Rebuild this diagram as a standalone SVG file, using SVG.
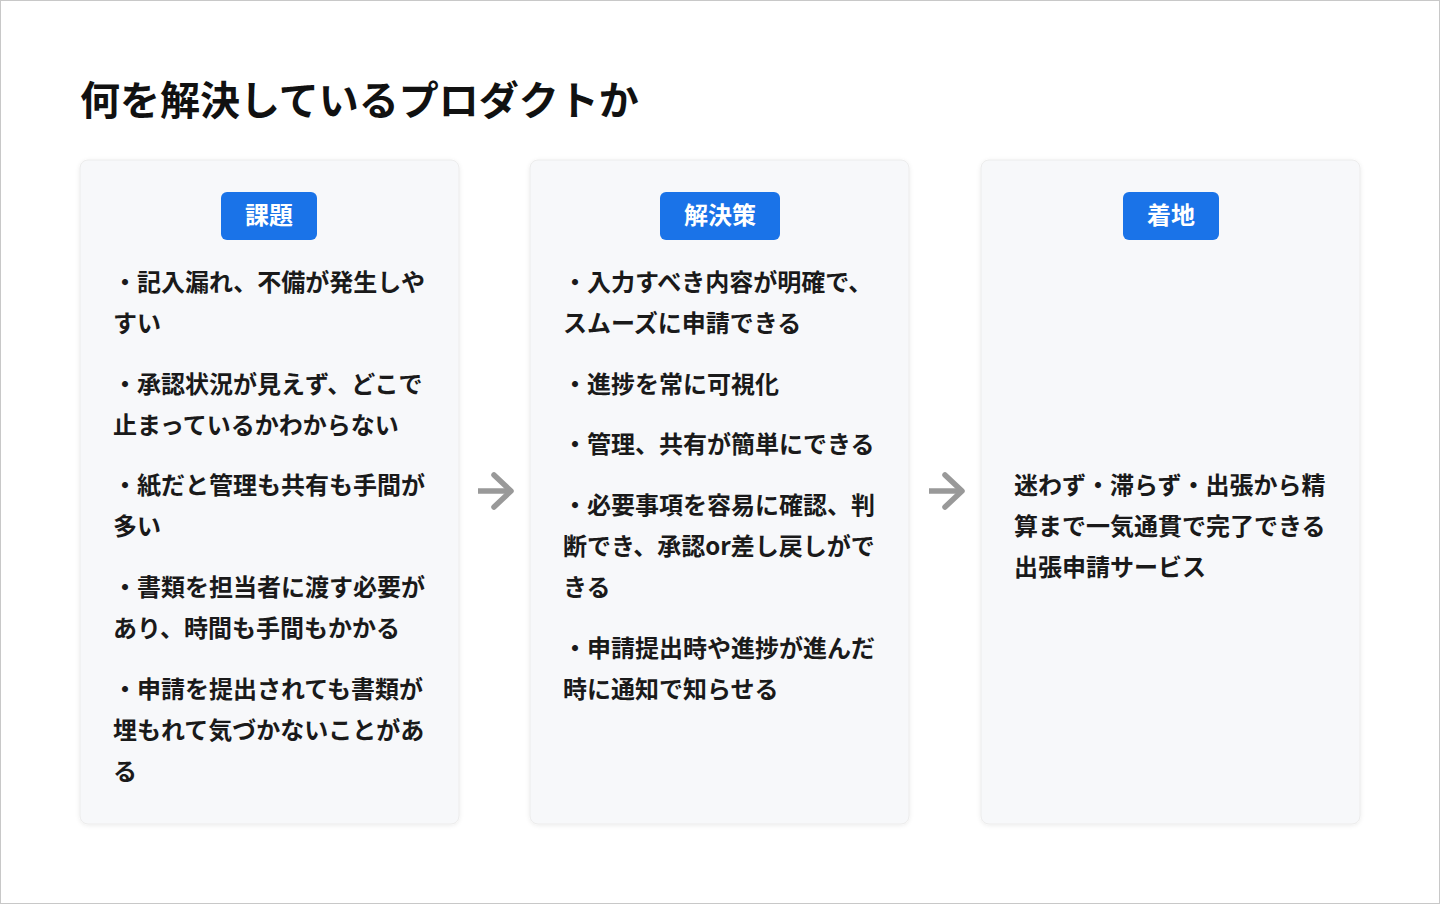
<svg xmlns="http://www.w3.org/2000/svg" width="1440" height="904" viewBox="0 0 1440 904">
<defs>
<filter id="sh" x="-10%" y="-10%" width="120%" height="120%">
<feDropShadow dx="0" dy="1" stdDeviation="2" flood-color="#000" flood-opacity="0.08"/>
</filter>
</defs>
<style>
text{font-family:"Noto Sans CJK JP","Noto Sans CJK SC",sans-serif;font-weight:700}
.title{font-size:40px;fill:#111}
.card{fill:#f7f8fa;stroke:#ececec;stroke-width:1;filter:url(#sh)}
.badge{fill:#1a73e8}
.bt{font-size:24px;fill:#fff;text-anchor:middle}
.body{font-size:24px;fill:#1a1a1a}
.shaft{fill:none;stroke:#999;stroke-width:5.5;stroke-linecap:butt}
.head{fill:none;stroke:#999;stroke-width:5.5;stroke-linecap:round;stroke-linejoin:round}
</style>
<rect x="0.5" y="0.5" width="1439" height="903" fill="#fff" stroke="#c8c8c8"/>
<text class="title" x="80" y="115">何を解決しているプロダクトか</text>

<g id="card-kadai">
<rect class="card" x="80" y="160" width="379" height="664" rx="8"/>
<rect class="badge" x="221" y="192" width="96" height="48" rx="6"/>
<text class="bt" x="269" y="224">課題</text>
<text class="body">
<tspan x="113" y="291">・記入漏れ、不備が発生しや</tspan>
<tspan x="113" y="332">すい</tspan>
<tspan x="113" y="393">・承認状況が見えず、どこで</tspan>
<tspan x="113" y="434">止まっているかわからない</tspan>
<tspan x="113" y="494">・紙だと管理も共有も手間が</tspan>
<tspan x="113" y="535">多い</tspan>
<tspan x="113" y="596">・書類を担当者に渡す必要が</tspan>
<tspan x="113" y="637">あり、時間も手間もかかる</tspan>
<tspan x="113" y="698">・申請を提出されても書類が</tspan>
<tspan x="113" y="739">埋もれて気づかないことがあ</tspan>
<tspan x="113" y="780">る</tspan>
</text>
</g>

<g id="card-kaiketsu">
<rect class="card" x="530" y="160" width="379" height="664" rx="8"/>
<rect class="badge" x="660" y="192" width="120" height="48" rx="6"/>
<text class="bt" x="720" y="224">解決策</text>
<text class="body">
<tspan x="563" y="291">・入力すべき内容が明確で、</tspan>
<tspan x="563" y="332">スムーズに申請できる</tspan>
<tspan x="563" y="393">・進捗を常に可視化</tspan>
<tspan x="563" y="453">・管理、共有が簡単にできる</tspan>
<tspan x="563" y="514">・必要事項を容易に確認、判</tspan>
<tspan x="563" y="555">断でき、承認or差し戻しがで</tspan>
<tspan x="563" y="596">きる</tspan>
<tspan x="563" y="657">・申請提出時や進捗が進んだ</tspan>
<tspan x="563" y="698">時に通知で知らせる</tspan>
</text>
</g>

<g id="card-chakuchi">
<rect class="card" x="981" y="160" width="379" height="664" rx="8"/>
<rect class="badge" x="1123" y="192" width="96" height="48" rx="6"/>
<text class="bt" x="1171" y="224">着地</text>
<text class="body">
<tspan x="1014" y="494">迷わず・滞らず・出張から精</tspan>
<tspan x="1014" y="535">算まで一気通貫で完了できる</tspan>
<tspan x="1014" y="576">出張申請サービス</tspan>
</text>
</g>

<g id="connectors">
<path class="shaft" d="M478 491 H510"/>
<path class="head" d="M494 475 L511 491 L494 507"/>
<path class="shaft" d="M929 491 H961"/>
<path class="head" d="M945 475 L962 491 L945 507"/>
</g>
</svg>
